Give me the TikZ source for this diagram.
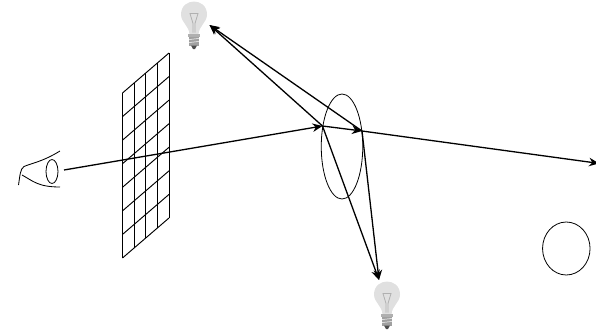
\documentclass[tikz,border=0pt]{standalone}
\usepackage{xcolor}
\definecolor{cglass}{HTML}{E0E0E0}
\definecolor{cwire}{HTML}{B0B0B0}
\definecolor{csock}{HTML}{A0A0A0}
\usepackage{tikz}
\usetikzlibrary{arrows.meta,positioning,calc,shapes.geometric}

\begin{document}
\begin{tikzpicture}[
  x=1pt, y=-1pt, >={Stealth[length=10pt,width=8.5pt]},
  ray/.style={->, line width=1.3pt},
  gridline/.style={line width=0.95pt},
  outline/.style={ellipse, draw, line width=0.8pt, inner sep=0pt},
  lid/.style={line width=0.85pt},
  bulb/.pic={
    \fill[cglass] (-4.5,33) .. controls (-5,24) and (-13,21) .. (-13,13)
      .. controls (-13,4) and (-6,0) .. (0,0) .. controls (6,0) and (13,4) .. (13,13)
      .. controls (13,21) and (5,24) .. (4.5,33) -- cycle;
    \draw[cwire, line width=0.8pt] (-1,31) -- (-1,22) -- (-4,12) -- (4,12) -- (1,22) -- (1,31);
    \fill[cwire] (-6,32) rectangle (6,35);
    \fill[csock] (-5,35) rectangle (5,44);
    \draw[white, line width=0.5pt] (-5,38) -- (5,37) (-5,41) -- (5,40);
    \fill[black!70] (-3,44) -- (3,44) -- (1,47.5) -- (-1,47.5) -- cycle;
  },
]
  \useasboundingbox (0,0) rectangle (596,332);

  % light bulbs
  \pic at (194,1.5) {bulb};
  \pic at (387,281.5) {bulb};

  % image plane
  \foreach \i in {0,...,4}
    \draw[gridline] ({122.5+11.625*\i},{93-10*\i}) -- ({122.5+11.625*\i},{258-10*\i});
  \foreach \j in {0,...,7}
    \draw[gridline] (122.5,{93+23.57*\j}) -- (169,{53+23.57*\j});

  % eye
  \node[outline, minimum width=12pt, minimum height=24pt] (pupil) at (52,171.5) {};
  \draw[lid] (18.5,185) .. controls (20,176) and (20,169) .. (24,166.5)
    .. controls (32,163) and (42,162) .. (60,151);
  \draw[lid] (22,175) .. controls (33,181) and (38,187) .. (60,187);

  % reflective ellipsoid and second sphere
  \node[outline, minimum width=41.5pt, minimum height=105pt] (lens) at (342,146.5) {};
  \node[outline, minimum width=47.5pt, minimum height=53pt] (sphere) at (566.3,248.5) {};

  \coordinate (eye) at (64,170);
  \coordinate (hita) at (322.5,126);
  \coordinate (hitb) at (362,131);
  \coordinate (far) at (599,163.4);
  \coordinate (lighta) at (209.5,25);
  \coordinate (lightb) at (379,280);

  \draw[ray] (eye) -- (hita);
  \draw[ray] (hita) -- (hitb);
  \draw[ray] (hitb) -- (far);
  \draw[ray] (hita) -- (lighta);
  \draw[ray] (hitb) -- (lighta);
  \draw[ray] (hita) -- (lightb);
  \draw[ray] (hitb) -- (lightb);
\end{tikzpicture}
\end{document}
